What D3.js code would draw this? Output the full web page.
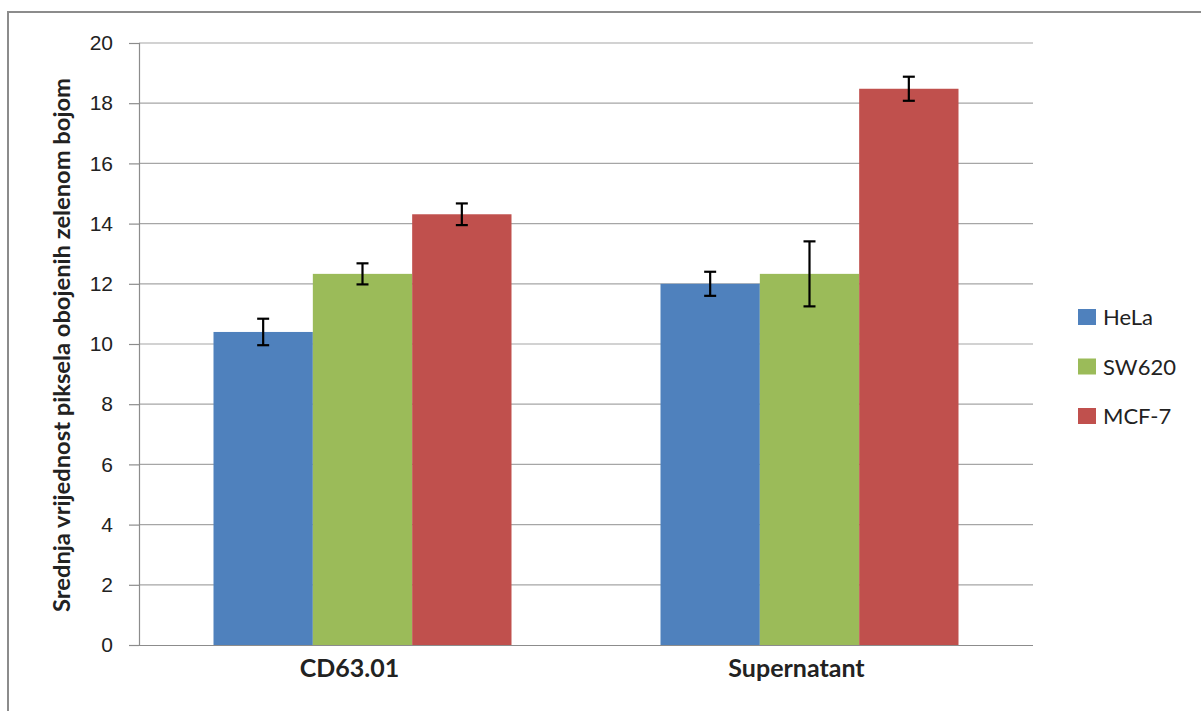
<!DOCTYPE html>
<html>
<head>
<meta charset="utf-8">
<script src="https://cdn.jsdelivr.net/npm/d3@7"></script>
<style>
  body { margin: 0; background: #fff; }
  svg { display: block; font-family: Lato, "Open Sans", sans-serif; }
</style>
</head>
<body>
<div id="chart-area"></div>
<script>
// data
var categories = ["CD63.01", "Supernatant"];
var seriesNames = ["HeLa", "SW620", "MCF-7"];
var seriesColors = ["#4f81bd", "#9bbb59", "#c0504d"];
var hela = [10.4, 12.0];
var sw620 = [12.33, 12.33];
var mcf7 = [14.31, 18.48];
var helaErr = [0.44, 0.4];
var sw620Err = [0.35, 1.08];
var mcf7Err = [0.36, 0.4];
var yTicks = [0, 2, 4, 6, 8, 10, 12, 14, 16, 18, 20];

var values = [hela, sw620, mcf7];
var errors = [helaErr, sw620Err, mcf7Err];

var W = 1201, H = 711;
var margin = { left: 139, right: 168, top: 43, bottom: 66 };
var width = W - margin.left - margin.right,
    height = H - margin.top - margin.bottom;

var svg = d3.select("#chart-area")
    .append("svg")
        .attr("width", W)
        .attr("height", H);

// outer frame
svg.append("rect")
    .attr("x", 8).attr("y", 12)
    .attr("width", 1220).attr("height", 720)
    .attr("fill", "none")
    .attr("stroke", "#8c8c8c")
    .attr("stroke-width", 2);

var g = svg.append("g")
    .attr("transform", "translate(" + margin.left + "," + margin.top + ")");

var y = d3.scaleLinear().domain([0, 20]).range([height, 0]);
var x0 = d3.scaleBand().domain(categories).range([0, width]);
// gap width 150% -> bars take 2/3 of each band
var x1 = d3.scaleBand().domain(seriesNames)
    .range([x0.bandwidth() / 6, x0.bandwidth() * 5 / 6]);

// gridlines
g.selectAll(".grid")
    .data(yTicks.filter(function(d){ return d > 0; }))
    .enter().append("line")
        .attr("x1", 0).attr("x2", width)
        .attr("y1", function(d){ return y(d); })
        .attr("y2", function(d){ return y(d); })
        .attr("stroke", "#a6a6a6")
        .attr("stroke-width", 1.2);

// Y axis
var yAxisCall = d3.axisLeft(y).tickValues(yTicks).tickSize(10).tickPadding(16);
var yAxisGroup = g.append("g").call(yAxisCall);
yAxisGroup.selectAll("path, line").attr("stroke", "#8c8c8c").attr("stroke-width", 1.2);
yAxisGroup.selectAll("text")
    .attr("font-size", "21px")
    .attr("fill", "#222");
yAxisGroup.select(".domain").attr("d", "M0.5," + height + "V0");

// bars
var groups = g.selectAll(".cat")
    .data(categories)
    .enter().append("g")
        .attr("transform", function(d){ return "translate(" + x0(d) + ",0)"; });

seriesNames.forEach(function(s, si){
    groups.append("rect")
        .attr("x", x1(s))
        .attr("width", x1.bandwidth())
        .attr("y", function(d, ci){ return y(values[si][ci]); })
        .attr("height", function(d, ci){ return height - y(values[si][ci]); })
        .attr("fill", seriesColors[si]);
});

// error bars
seriesNames.forEach(function(s, si){
    var cx = x1(s) + x1.bandwidth() / 2;
    var eb = groups.append("g").attr("stroke", "#000").attr("stroke-width", 2.2);
    eb.append("line")
        .attr("x1", cx).attr("x2", cx)
        .attr("y1", function(d, ci){ return y(values[si][ci] + errors[si][ci]); })
        .attr("y2", function(d, ci){ return y(values[si][ci] - errors[si][ci]); });
    [1, -1].forEach(function(sign){
        eb.append("line")
            .attr("x1", cx - 6).attr("x2", cx + 6)
            .attr("y1", function(d, ci){ return y(values[si][ci] + sign * errors[si][ci]); })
            .attr("y2", function(d, ci){ return y(values[si][ci] + sign * errors[si][ci]); });
    });
});

// X axis line
g.append("line")
    .attr("x1", -10).attr("x2", width)
    .attr("y1", height + 0.5).attr("y2", height + 0.5)
    .attr("stroke", "#8c8c8c")
    .attr("stroke-width", 1.2);

// category labels (sit a little left of the group centre, as in the original)
g.selectAll(".catlabel")
    .data(categories)
    .enter().append("text")
        .attr("x", function(d){ return x0(d) + x0.bandwidth() / 2 - 13; })
        .attr("y", height + 32)
        .attr("text-anchor", "middle")
        .attr("font-size", "25px")
        .attr("font-weight", "bold")
        .attr("fill", "#222")
        .text(function(d){ return d; });

// Y label
svg.append("text")
    .attr("transform", "translate(70," + 345 + ") rotate(-90)")
    .attr("text-anchor", "middle")
    .attr("font-size", "23px")
    .attr("font-weight", "bold")
    .attr("fill", "#222")
    .attr("textLength", 534)
    .attr("lengthAdjust", "spacingAndGlyphs")
    .text("Srednja vrijednost  piksela obojenih zelenom bojom");

// legend
var legend = svg.append("g").attr("transform", "translate(1078,309)");
seriesNames.forEach(function(s, i){
    var lg = legend.append("g").attr("transform", "translate(0," + (i * 49.5) + ")");
    lg.append("rect")
        .attr("width", 18).attr("height", 16)
        .attr("fill", seriesColors[i]);
    lg.append("text")
        .attr("x", 25).attr("y", 16)
        .attr("font-size", "22px")
        .attr("fill", "#222")
        .text(s);
});
</script>
</body>
</html>
